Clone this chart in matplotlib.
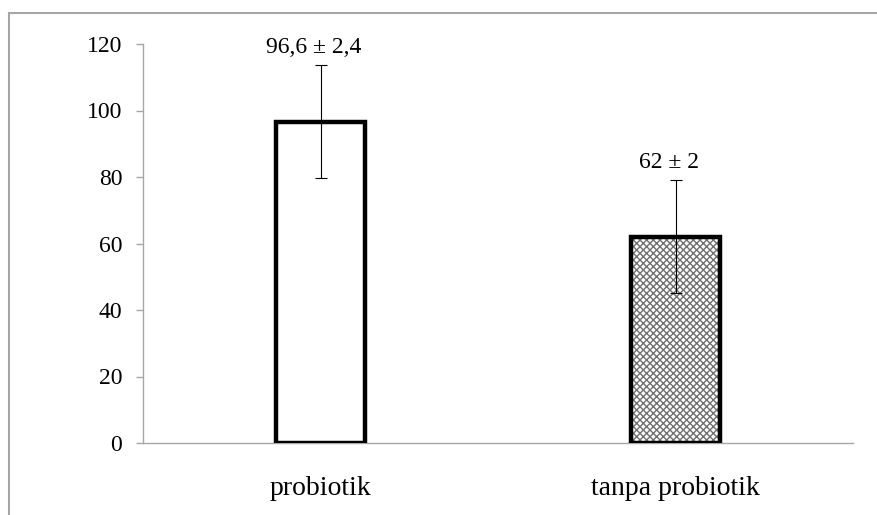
import matplotlib.pyplot as plt
import matplotlib.patches as mpatches
import numpy as np

plt.rcParams['font.family'] = ['Liberation Serif', 'DejaVu Serif']
plt.rcParams['hatch.linewidth'] = 1.0

categories = ['probiotik', 'tanpa probiotik']
values = [96.6, 62]
errors = [17, 17]
labels = ['96,6 \u00b1 2,4', '62 \u00b1 2']
hatches = ['', 'xxxxx']

fig = plt.figure(figsize=(8.77, 5.15), dpi=100)
fig.set_facecolor('w')
ax = fig.add_axes([143/877, 1 - 443/515, 710/877, 399/515])

# outer gray frame (left and top edges visible)
fig.patches.append(mpatches.Rectangle((9/877, -0.1), 1.2, 1 - 13/515 + 0.1,
                                      transform=fig.transFigure, fill=False,
                                      edgecolor='#a6a6a6', linewidth=1.5))

x = np.arange(len(categories))
w = 0.25
for i in range(len(categories)):
    if hatches[i]:
        ax.bar(x[i], values[i], w, color='white', edgecolor='#707070',
               hatch=hatches[i], linewidth=0, zorder=2)
    ax.bar(x[i], values[i], w, fill=False, edgecolor='black', linewidth=3.2, zorder=3)

ax.errorbar(x, values, yerr=errors, fmt='none', ecolor='black', elinewidth=0.8,
            capsize=4.5, capthick=0.8, zorder=4)

for i in range(len(categories)):
    ax.annotate(labels[i], (x[i], values[i] + errors[i]), xytext=(-5, 5),
                textcoords='offset points', ha='center', va='bottom', fontsize=17)

ax.set_xlim(-0.5, 1.5)
ax.set_ylim(0, 120)
ax.set_yticks(np.arange(0, 121, 20))
ax.set_xticks(x)
ax.set_xticklabels(categories, fontsize=20)
ax.tick_params(axis='x', length=0, pad=24)
ax.tick_params(axis='y', labelsize=17, color='#a6a6a6', length=5, width=1, pad=10)
for s in ['top', 'right']:
    ax.spines[s].set_visible(False)
ax.spines['left'].set_color('#a6a6a6')
ax.spines['bottom'].set_color('#a6a6a6')
ax.spines['left'].set_linewidth(1)
ax.spines['bottom'].set_linewidth(1)

fig.savefig('out.png', dpi=100)
